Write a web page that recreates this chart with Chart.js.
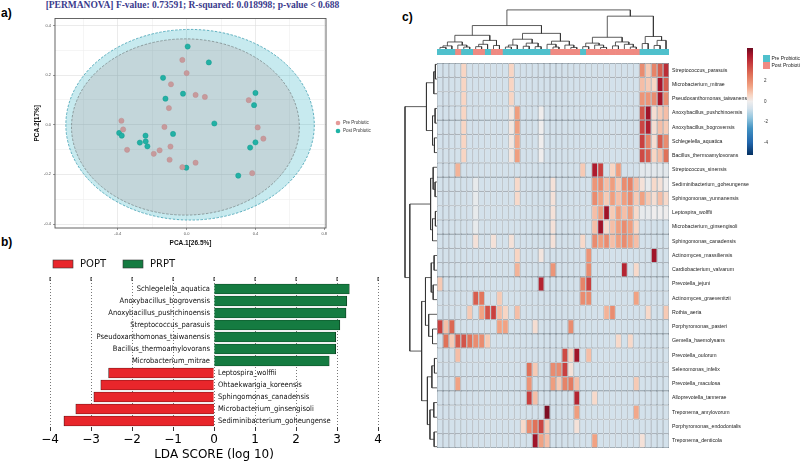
<!DOCTYPE html>
<html>
<head>
<meta charset="utf-8">
<script src="https://cdn.jsdelivr.net/npm/chart.js@4.4.1/dist/chart.umd.min.js"></script>
<style>
  html, body { margin: 0; padding: 0; background: #fff; }
  body { width: 800px; height: 464px; position: relative; overflow: hidden; font-family: 'Liberation Sans', Arial, sans-serif; }
  canvas { position: absolute; }
  .tag { position: absolute; font: bold 12px 'Liberation Sans', Arial, sans-serif; color: #000; }
  #title { position: absolute; left: 0; top: 0; width: 385px; text-align: center; white-space: nowrap;
           font: bold 9.5px 'Liberation Serif', 'DejaVu Serif', serif; color: #3a3a8c; }
</style>
</head>
<body>
<div id="title">[PERMANOVA] F-value: 0.73591; R-squared: 0.018998; p-value &lt; 0.688</div>
<div class="tag" style="left:1px;top:6px">a)</div>
<div class="tag" style="left:1px;top:235px">b)</div>
<div class="tag" style="left:402px;top:10px">c)</div>

<canvas id="pca" width="400" height="236" style="left:0;top:14px"></canvas>
<canvas id="lda" width="400" height="214" style="left:0;top:250px"></canvas>
<canvas id="colTree" width="232" height="43" style="left:437px;top:6px"></canvas>
<canvas id="annot" width="232" height="6" style="left:437px;top:49px"></canvas>
<canvas id="rowTree" width="36" height="397" style="left:401px;top:57px"></canvas>
<canvas id="heat" width="363" height="397" style="left:437px;top:57px"></canvas>
<canvas id="cbar" width="60" height="125" style="left:740px;top:40px"></canvas>

<script>
// ---------- a) PCA scores ----------
const preX  = [-0.025, 0.0, -0.091, 0.052, 0.106, -0.103, 0.361, -0.379, -0.369, -0.129, 0.413, 0.446, -0.346, -0.191, -0.157, -0.094, -0.099, -0.025, 0.052, 0.381];
const preY  = [0.261, 0.208, 0.163, 0.12, 0.112, 0.067, 0.099, 0.016, -0.019, -0.009, -0.011, -0.056, -0.101, -0.117, -0.103, -0.088, -0.141, -0.171, -0.153, -0.195];
const postX = [0.006, 0.129, -0.137, -0.021, -0.123, 0.40, 0.392, 0.161, -0.392, -0.377, -0.239, -0.079, -0.272, -0.238, -0.228, 0.40, 0.369, -0.002, 0.30];
const postY = [0.315, 0.251, 0.189, 0.125, 0.105, 0.128, 0.079, 0.005, -0.033, -0.044, -0.044, -0.037, -0.072, -0.067, -0.087, -0.071, -0.092, -0.173, -0.205];

// confidence ellipses (post drawn first, pre on top)
const ellipseCx = [0.02, -0.007];
const ellipseCy = [0.0, -0.009];
const ellipseRx = [0.722, 0.662];
const ellipseRy = [0.384, 0.355];

const pcaXTicks = [-0.4, 0, 0.4, 0.8];
const pcaXGrid  = [-0.6, -0.4, -0.2, 0, 0.2, 0.4, 0.6, 0.8];
const pcaYTicks = [-0.4, -0.2, 0, 0.2, 0.4];
const pcaYGrid  = [-0.4, -0.3, -0.2, -0.1, 0, 0.1, 0.2, 0.3, 0.4];

// ---------- b) LEfSe LDA scores ----------
const ldaNames = ['Schlegelella_aquatica', 'Anoxybacillus_bogrovensis', 'Anoxybacillus_pushchinoensis',
  'Streptococcus_parasuis', 'Pseudoxanthomonas_taiwanensis', 'Bacillus_thermoamylovorans',
  'Microbacterium_mitrae', 'Leptospira_wolffii', 'Ohtaekwangia_koreensis', 'Sphingomonas_canadensis',
  'Microbacterium_ginsengisoli', 'Sediminibacterium_goheungense'];
const ldaScores = [3.30, 3.24, 3.22, 3.07, 2.97, 2.97, 2.81, -2.57, -2.76, -2.93, -3.37, -3.66];
const ldaTicks = [-4, -3, -2, -1, 0, 1, 2, 3, 4];

// ---------- c) heatmap ----------
const heatRows = ['Streptococcus_parasuis', 'Microbacterium_mitrae', 'Pseudoxanthomonas_taiwanensis',
  'Anoxybacillus_pushchinoensis', 'Anoxybacillus_bogrovensis', 'Schlegelella_aquatica',
  'Bacillus_thermoamylovorans', 'Streptococcus_sinensis', 'Sediminibacterium_goheungense',
  'Sphingomonas_yunnanensis', 'Leptospira_wolffii', 'Microbacterium_ginsengisoli',
  'Sphingomonas_canadensis', 'Actinomyces_massiliensis', 'Cardiobacterium_valvarum',
  'Prevotella_jejuni', 'Actinomyces_graevenitzii', 'Rothia_aeria', 'Porphyromonas_pasteri',
  'Gemella_haemolysans', 'Prevotella_oulorum', 'Selenomonas_infelix', 'Prevotella_maculosa',
  'Alloprevotella_tannerae', 'Treponema_amylovorum', 'Porphyromonas_endodontalis', 'Treponema_denticola'];

// sample group per column (P = Pre Probiotic, Q = Post Probiotic)
const heatGroups = ['P','P','P','Q','P','P','Q','Q','P','Q', 'Q','P','P','P','P','P','P','P','P','Q',
  'Q','Q','Q','Q','P','Q','Q','Q','Q','Q', 'Q','Q','Q','Q','P','P','P','P','P'];

const o = -0.7; // background level of most cells
const heatValues = [
  [o,o,o,o,.6,o,o,o,o,o, o,o,.6,o,o,o,o,o,o,o, o,o,o,o,o,o,o,o,o,o, o,o,o,o,2,.8,2.2,3,4],
  [o,o,o,o,.6,o,o,o,o,o, o,o,.6,o,o,o,o,o,o,o, o,o,o,o,o,o,o,o,o,o, o,o,o,o,1,.8,.6,4.5,3],
  [o,o,o,o,.6,o,o,o,o,o, o,o,.6,o,o,o,o,o,o,o, o,o,o,o,o,o,o,o,o,o, o,o,o,o,1.8,1.8,2,4.5,2],
  [o,o,o,o,.6,o,o,o,o,o, o,o,.2,1.6,o,o,o,0,o,o, o,o,o,o,o,o,o,o,o,o, o,o,o,o,3.2,4.6,.4,.8,1],
  [o,o,o,o,.6,o,o,o,o,o, o,o,.2,1.6,o,o,o,0,o,o, o,o,o,o,o,o,o,o,o,o, o,o,o,o,3.5,4.3,.4,1,.8],
  [o,o,o,o,.6,o,o,o,o,o, o,o,.2,1.4,o,o,o,0,o,o, o,o,o,o,o,o,o,o,o,o, o,o,o,o,3.6,2.2,.4,3,2],
  [o,o,o,o,.6,o,o,o,o,o, o,o,.2,1.6,o,o,o,0,o,o, o,o,o,o,o,o,o,o,o,o, o,o,o,o,3.4,3,.6,1,2.6],
  [o,o,o,1.2,o,o,o,o,o,o, o,o,o,o,o,o,o,o,o,o, o,o,o,o,.8,o,4.4,3.6,o,.6, 1.6,o,o,o,-.3,-.3,-.3,-.3,-.3],
  [o,o,o,o,o,o,-.2,o,o,o, o,o,o,.5,o,o,o,o,o,.3, o,o,o,o,o,o,1.8,2,1,1.6, .8,2,2.2,1,.3,-.2,.5,.3,0],
  [o,o,o,o,o,o,-.2,o,o,o, o,o,o,.5,o,o,o,o,o,.3, o,o,o,o,o,o,2,1.5,.8,1.6, 1,1.6,2,.8,1.5,.8,.4,1,.5],
  [o,o,o,o,o,o,-.2,o,o,o, o,o,o,o,o,o,o,o,o,.3, o,o,o,o,o,o,1,1.6,4.6,.8, 1.6,1,1.6,.5,-.2,-.2,0,0,0],
  [o,o,o,o,o,o,-.2,o,o,o, o,o,o,o,o,o,o,o,o,.3, o,o,o,o,o,o,1,4.6,.5,1, 1.6,2,1.6,.6,o,o,o,o,o],
  [o,o,o,o,o,o,.3,o,o,.3, o,o,.3,o,o,o,o,o,o,.3, o,o,o,o,.5,o,2,1.6,2,1, 1.6,2,1.6,1,o,o,o,o,o],
  [o,o,o,o,o,o,o,o,o,o, o,o,o,.6,o,o,o,.2,o,o, o,o,o,o,o,1.8,o,o,o,o, o,o,o,o,o,o,4.6,o,o],
  [o,o,o,o,o,o,o,o,o,o, o,o,o,1.2,o,o,o,o,o,1.8, o,o,o,o,o,2,o,o,o,o, o,4.2,o,.5,o,o,o,o,o],
  [.8,o,o,o,o,o,o,o,o,o, o,o,o,o,o,o,o,4.2,o,o, o,o,o,o,2.2,3.6,o,o,o,o, o,o,o,o,o,o,o,o,o],
  [o,o,o,o,o,o,3,2.5,o,o, .8,o,o,o,o,o,o,o,o,o, o,o,o,o,2,2,o,o,o,o, o,o,o,1.5,o,o,o,o,o],
  [o,o,o,o,o,.8,o,1.5,3.2,3.6, 1,.6,o,1,o,o,o,o,o,o, o,o,o,o,o,o,o,o,1.2,2, o,o,o,o,o,.5,o,o,.8],
  [3.6,1,2.8,o,o,o,o,o,o,o, 1.5,1.5,o,o,o,o,.4,o,o,o, o,o,2,o,o,o,o,o,o,o, o,o,o,o,o,o,o,o,o],
  [o,2.6,.8,3,3.2,2.6,2,2,.8,o, o,o,o,o,o,o,o,o,o,o, o,o,o,o,o,o,o,o,o,o, .5,o,.5,o,o,o,o,o,o],
  [o,o,o,1,o,o,o,o,o,o, o,o,o,o,o,o,o,o,o,o, o,3.4,.6,4.6,o,1,o,o,o,o, o,o,o,o,o,o,o,o,o],
  [o,o,o,o,o,o,o,o,o,o, o,o,o,o,o,2.6,.8,o,o,2, 2,3.6,.3,o,o,o,o,o,o,o, o,o,o,o,o,o,o,o,o],
  [o,o,o,1.5,o,o,o,o,o,o, o,o,o,o,o,1.8,o,o,o,1.6, .8,2.2,2.4,1,o,o,o,o,o,o, o,o,o,.8,o,o,o,o,o],
  [o,o,o,o,o,o,o,o,o,o, o,o,o,o,o,3.6,1,o,o,o, o,o,o,4.2,o,o,.5,o,o,o, o,o,o,o,o,o,o,o,o],
  [o,o,o,o,o,o,o,o,o,o, o,o,o,o,o,o,o,o,5,o, o,o,o,1.6,o,o,o,o,o,o, o,o,o,1.4,o,o,o,o,o],
  [o,o,o,o,o,o,o,o,o,o, o,o,o,o,.5,2,2.6,3.5,.8,o, o,o,o,.3,o,o,o,o,o,o, o,o,o,o,o,o,o,o,o],
  [o,o,o,o,o,o,o,o,o,o, o,o,o,o,o,o,4.6,1.5,1,o, o,o,o,o,o,o,1.5,o,o,o, o,o,o,o,.3,o,o,o,o]
];

// dendrograms: [mergeHeight, left, right], leaves are column / row indices
const colTree = [100,
  [60,
    [35, [18, [8, [4, 0, 1], 2], [10, 3, [5, 4, 5]]], [22, [12, [6, 6, 7], 8], [9, 9, 10]]],
    [40, [25, [10, [5, 11, 12], 13], [15, [7, 14, 15], [6, 16, 17]]], [20, [12, 18, [5, 19, 20]], [10, 21, [4, 22, 23]]]]],
  [84,
    [30, [15, [6, 24, 25], [10, 26, [4, 27, 28]]], [18, [8, 29, 30], [12, 31, [5, 32, 33]]]],
    [32, [14, 34, 35], [22, [9, 36, 37], 38]]]];
const rowTree = [100,
  [33, [10, [5, 0, 1], 2], [14, [6, 3, 4], [8, 5, 6]]],
  [85,
    [20, [12, 7, [6, 8, 9]], [14, [5, 10, 11], 12]],
    [48,
      [36, [18, [9, 13, 14], [12, 15, 16]], [26, 17, [14, 18, 19]]],
      [30, [16, [8, 20, 21], 22], [22, [10, 23, 24], [9, 25, 26]]]]]];

const cbarTicks = [-4, -2, 0, 2, 4];

// ---------- styles ----------
Chart.defaults.font.family = "'Liberation Sans', Arial, sans-serif";
Chart.defaults.animation = false;
Chart.defaults.events = [];

const ellipseFill   = ['rgba(40, 175, 195, 0.26)', 'rgba(170, 110, 110, 0.17)'];
const ellipseStroke = ['#3a9db0', '#7d8a8c'];
const groupColor = { P: '#4fc0cc', Q: '#ef8a82' };
const groupName  = { P: 'Pre Probiotic', Q: 'Post Probiotic' };
const heatPalette = [[-5.2, '#053061'], [-4, '#2166ac'], [-2.6, '#4393c3'], [-1.6, '#92c5de'],
  [-0.7, '#d3e1eb'], [0, '#efeded'], [0.6, '#f8d5c3'], [1.5, '#f1a283'], [2.6, '#e07259'],
  [3.6, '#c9403f'], [4.5, '#a9162b'], [5.2, '#6d0a20']];

function hexRgb(h) { return [1, 3, 5].map(i => parseInt(h.slice(i, i + 2), 16)); }
function heatColor(v) {
  const p = heatPalette;
  if (v <= p[0][0]) return p[0][1];
  for (let i = 1; i < p.length; i++) {
    if (v <= p[i][0]) {
      const t = (v - p[i - 1][0]) / (p[i][0] - p[i - 1][0]);
      const a = hexRgb(p[i - 1][1]), b = hexRgb(p[i][1]);
      return 'rgb(' + a.map((c, k) => Math.round(c + (b[k] - c) * t)).join(',') + ')';
    }
  }
  return p[p.length - 1][1];
}

// ---------- a) PCA ----------
const ellipsePlugin = {
  id: 'ellipses',
  beforeDatasetsDraw(chart) {
    const { ctx, chartArea: a, scales: { x, y } } = chart;
    ctx.save();
    ctx.beginPath(); ctx.rect(a.left, a.top, a.width, a.height); ctx.clip();
    ellipseCx.forEach((cx, i) => {
      const px = x.getPixelForValue(cx), py = y.getPixelForValue(ellipseCy[i]);
      const rx = Math.abs(x.getPixelForValue(cx + ellipseRx[i]) - px);
      const ry = Math.abs(y.getPixelForValue(ellipseCy[i] + ellipseRy[i]) - py);
      ctx.beginPath();
      ctx.ellipse(px, py, rx, ry, 0, 0, Math.PI * 2);
      ctx.fillStyle = ellipseFill[i];
      ctx.fill();
      ctx.setLineDash([2.5, 1.5]);
      ctx.lineWidth = 0.8;
      ctx.strokeStyle = ellipseStroke[i];
      ctx.stroke();
    });
    ctx.restore();
  },
  afterDraw(chart) {
    const { ctx, chartArea: a } = chart;
    ctx.save();
    ctx.strokeStyle = '#555';
    ctx.lineWidth = 0.9;
    ctx.strokeRect(a.left, a.top, a.width, a.height);
    // legend
    ctx.font = "4.5px 'Liberation Sans', Arial, sans-serif";
    ctx.textBaseline = 'middle';
    chart.data.datasets.forEach((ds, i) => {
      const yy = 109 + i * 8;
      ctx.beginPath();
      ctx.arc(338, yy, 2.3, 0, Math.PI * 2);
      ctx.fillStyle = ds.legendColor;
      ctx.fill();
      ctx.fillStyle = '#333';
      ctx.fillText(ds.label, 343, yy);
    });
    ctx.restore();
  }
};

const isMajor = (list, ctx) => ctx.tick && list.some(v => Math.abs(v - ctx.tick.value) < 1e-9);

new Chart(document.getElementById('pca'), {
  type: 'scatter',
  data: {
    datasets: [
      { label: 'Pre Probiotic', data: preX.map((x, i) => ({ x, y: preY[i] })),
        backgroundColor: '#c79a9c', borderColor: '#bd8e90', borderWidth: 0.5, pointRadius: 2.6, legendColor: '#e59a98' },
      { label: 'Post Probiotic', data: postX.map((x, i) => ({ x, y: postY[i] })),
        backgroundColor: '#22b1a5', borderColor: '#169a8f', borderWidth: 0.5, pointRadius: 2.6, legendColor: '#1fb3a6' }
    ]
  },
  options: {
    responsive: false,
    layout: { padding: { left: 30, right: 74, top: 4, bottom: 0 } },
    plugins: { legend: { display: false }, tooltip: { enabled: false } },
    scales: {
      x: {
        type: 'linear', min: -0.765, max: 0.81,
        afterBuildTicks: s => { s.ticks = pcaXGrid.map(v => ({ value: v })); },
        afterFit: s => { s.height = 22; },
        ticks: { autoSkip: false, maxRotation: 0, padding: 1, color: '#555', font: { size: 4 },
                 callback: v => pcaXTicks.some(t => Math.abs(t - v) < 1e-9) ? v.toFixed(1) : '' },
        grid: { color: c => isMajor(pcaXTicks, c) ? '#dedede' : '#efefef', lineWidth: 0.6, tickLength: 2,
                tickColor: c => isMajor(pcaXTicks, c) ? '#555' : 'rgba(0,0,0,0)' },
        border: { display: false },
        title: { display: true, text: 'PCA.1[26.5%]', color: '#111', font: { size: 6.5, weight: 'bold' }, padding: { top: 0, bottom: 3 } }
      },
      y: {
        type: 'linear', min: -0.416, max: 0.428,
        afterBuildTicks: s => { s.ticks = pcaYGrid.map(v => ({ value: v })); },
        afterFit: s => { s.width = 25; },
        ticks: { autoSkip: false, padding: 2, color: '#555', font: { size: 4 },
                 callback: v => pcaYTicks.some(t => Math.abs(t - v) < 1e-9) ? v.toFixed(1) : '' },
        grid: { color: c => isMajor(pcaYTicks, c) ? '#dedede' : '#efefef', lineWidth: 0.6, tickLength: 2,
                tickColor: c => isMajor(pcaYTicks, c) ? '#555' : 'rgba(0,0,0,0)' },
        border: { display: false },
        title: { display: true, text: 'PCA.2[17%]', color: '#111', font: { size: 6.5, weight: 'bold' }, padding: 3 }
      }
    }
  },
  plugins: [ellipsePlugin]
});

// ---------- b) LDA bars ----------
const ldaPlugin = {
  id: 'ldaExtras',
  afterDatasetsDraw(chart) {
    const { ctx, chartArea: a, scales: { x, y } } = chart;
    const x0 = x.getPixelForValue(0);
    ctx.save();
    ctx.font = "7.5px 'DejaVu Sans Condensed', 'Liberation Sans Narrow', 'DejaVu Sans', sans-serif";
    ctx.fillStyle = '#111';
    ctx.textBaseline = 'middle';
    ldaNames.forEach((name, i) => {
      const yy = y.getPixelForValue(i);
      if (ldaScores[i] > 0) { ctx.textAlign = 'right'; ctx.fillText(name, x0 - 4, yy); }
      else { ctx.textAlign = 'left'; ctx.fillText(name, x0 + 4, yy); }
    });
    // top tick marks
    ctx.strokeStyle = '#000';
    ctx.lineWidth = 0.8;
    ldaTicks.forEach(t => {
      const px = x.getPixelForValue(t);
      ctx.beginPath(); ctx.moveTo(px, a.top); ctx.lineTo(px, a.top + 4); ctx.stroke();
    });
    // legend
    ctx.font = "10px 'DejaVu Sans', sans-serif";
    ctx.textAlign = 'left';
    let lx = 53;
    chart.data.datasets.forEach(ds => {
      ctx.fillStyle = ds.backgroundColor;
      ctx.fillRect(lx, 10, 20, 8);
      ctx.strokeStyle = '#333'; ctx.lineWidth = 0.6;
      ctx.strokeRect(lx, 10, 20, 8);
      ctx.fillStyle = '#111';
      ctx.fillText(ds.label, lx + 27, 14.5);
      lx += 70;
    });
    ctx.restore();
  }
};

new Chart(document.getElementById('lda'), {
  type: 'bar',
  data: {
    datasets: [
      { label: 'POPT', data: ldaScores.map((v, i) => ({ x: v, y: i })).filter(d => d.x < 0),
        backgroundColor: '#e8262b', borderColor: '#2a0a0a', borderWidth: 0.7 },
      { label: 'PRPT', data: ldaScores.map((v, i) => ({ x: v, y: i })).filter(d => d.x > 0),
        backgroundColor: '#157b41', borderColor: '#0a2a14', borderWidth: 0.7 }
    ]
  },
  options: {
    responsive: false,
    indexAxis: 'y',
    grouped: false,
    barThickness: 10,
    layout: { padding: { left: 50, right: 22, top: 27, bottom: 0 } },
    plugins: { legend: { display: false }, tooltip: { enabled: false } },
    scales: {
      y: { type: 'linear', min: -1, max: 11.5, reverse: true, offset: false, display: false },
      x: {
        type: 'linear', min: -4, max: 4,
        afterBuildTicks: s => { s.ticks = ldaTicks.map(v => ({ value: v })); },
        afterFit: s => { s.height = 37; },
        ticks: { color: '#000', padding: 2, font: { size: 12, family: "'DejaVu Sans', sans-serif" },
                 callback: v => v < 0 ? '\u2212' + Math.abs(v) : String(v) },
        grid: { color: '#555', lineWidth: 0.8, tickLength: 4, tickColor: '#000', tickBorderDash: [] },
        border: { display: false, dash: [1, 2] },
        title: { display: true, text: 'LDA SCORE (log 10)', color: '#000',
                 font: { size: 12, family: "'DejaVu Sans', sans-serif" }, padding: { top: 0, bottom: 2 } }
      }
    }
  },
  plugins: [ldaPlugin]
});

// ---------- c) dendrograms ----------
function treeSegments(node, out) {
  if (typeof node === 'number') return [node, 0];
  const [h, a, b] = node;
  const [p1, h1] = treeSegments(a, out);
  const [p2, h2] = treeSegments(b, out);
  out.push([p1, h1], [p1, h], [p2, h], [p2, h2], null);
  return [(p1 + p2) / 2, h];
}
const colSeg = []; treeSegments(colTree, colSeg);
const rowSeg = []; treeSegments(rowTree, rowSeg);

const treeDataset = pts => ({
  data: pts, showLine: true, borderColor: '#333', borderWidth: 0.8, pointRadius: 0, clip: false, spanGaps: false
});
const hidden = { display: false };

new Chart(document.getElementById('colTree'), {
  type: 'scatter',
  data: { datasets: [treeDataset(colSeg.map(p => p ? { x: p[0], y: p[1] } : { x: null, y: null }))] },
  options: {
    responsive: false, layout: { padding: 0 },
    plugins: { legend: hidden, tooltip: { enabled: false } },
    scales: { x: { ...hidden, type: 'linear', min: -0.5, max: 38.5 }, y: { ...hidden, type: 'linear', min: 0, max: 110 } }
  }
});

new Chart(document.getElementById('rowTree'), {
  type: 'scatter',
  data: { datasets: [treeDataset(rowSeg.map(p => p ? { x: p[1], y: p[0] } : { x: null, y: null }))] },
  options: {
    responsive: false, layout: { padding: 0 },
    plugins: { legend: hidden, tooltip: { enabled: false } },
    scales: {
      x: { ...hidden, type: 'linear', min: 0, max: 112.5, reverse: true },
      y: { ...hidden, type: 'linear', min: -0.5, max: heatRows.length - 0.5, reverse: true }
    }
  }
});

// ---------- c) annotation bar ----------
new Chart(document.getElementById('annot'), {
  type: 'bar',
  data: {
    labels: ['group'],
    datasets: heatGroups.map(g => ({ data: [1], backgroundColor: groupColor[g], borderWidth: 0 }))
  },
  options: {
    responsive: false, indexAxis: 'y', layout: { padding: 0 },
    barPercentage: 1, categoryPercentage: 1,
    plugins: { legend: hidden, tooltip: { enabled: false } },
    scales: {
      x: { ...hidden, stacked: true, min: 0, max: heatGroups.length },
      y: { ...hidden, stacked: true }
    }
  }
});

// ---------- c) heatmap cells ----------
new Chart(document.getElementById('heat'), {
  type: 'bar',
  data: {
    labels: heatRows,
    datasets: heatGroups.map((g, c) => ({
      label: 'S' + (c + 1),
      data: heatRows.map(() => 1),
      backgroundColor: heatValues.map(row => heatColor(row[c])),
      borderColor: '#73808c', borderWidth: 0.6, borderSkipped: false, inflateAmount: 0
    }))
  },
  options: {
    responsive: false, indexAxis: 'y', layout: { padding: 0 },
    barPercentage: 1, categoryPercentage: 1,
    plugins: { legend: hidden, tooltip: { enabled: false } },
    scales: {
      x: { ...hidden, stacked: true, min: 0, max: heatGroups.length },
      y: {
        stacked: true, position: 'right',
        afterFit: s => { s.width = 131; },
        grid: { display: false, drawTicks: false, tickLength: 0 }, border: { display: false },
        ticks: { autoSkip: false, padding: 3, color: '#222', font: { size: 5.2 } }
      }
    }
  }
});

// ---------- c) colour key + annotation legend ----------
new Chart(document.getElementById('cbar'), {
  type: 'bar',
  data: {
    labels: [''],
    datasets: [{
      data: [[heatPalette[0][0], heatPalette[heatPalette.length - 1][0]]],
      borderWidth: 0,
      backgroundColor(ctx) {
        const chart = ctx.chart;
        if (!chart.chartArea) return '#ccc';
        const ys = chart.scales.y;
        const lo = heatPalette[0][0], hi = heatPalette[heatPalette.length - 1][0];
        const g = chart.ctx.createLinearGradient(0, ys.getPixelForValue(lo), 0, ys.getPixelForValue(hi));
        heatPalette.forEach(([v, col]) => g.addColorStop((v - lo) / (hi - lo), col));
        return g;
      }
    }]
  },
  options: {
    responsive: false, layout: { padding: { left: 7, top: 8, bottom: 10, right: 0 } },
    barPercentage: 1, categoryPercentage: 1,
    plugins: { legend: hidden, tooltip: { enabled: false } },
    scales: {
      x: hidden,
      y: {
        position: 'right', min: heatPalette[0][0], max: heatPalette[heatPalette.length - 1][0],
        afterBuildTicks: s => { s.ticks = cbarTicks.map(v => ({ value: v })); },
        afterFit: s => { s.width = 47; },
        grid: { display: false }, border: { display: false },
        ticks: { padding: 3, color: '#333', font: { size: 4.5 } }
      }
    }
  },
  plugins: [{
    id: 'annotLegend',
    afterDraw(chart) {
      const ctx = chart.ctx;
      ctx.save();
      ctx.font = "5px 'Liberation Sans', Arial, sans-serif";
      ctx.textBaseline = 'middle';
      ['P', 'Q'].forEach((g, i) => {
        const yy = 15 + i * 7;
        ctx.fillStyle = groupColor[g];
        ctx.fillRect(23, yy, 7, 7);
        ctx.fillStyle = '#222';
        ctx.fillText(groupName[g], 31.5, yy + 3.5);
      });
      ctx.restore();
    }
  }]
});
</script>
</body>
</html>
